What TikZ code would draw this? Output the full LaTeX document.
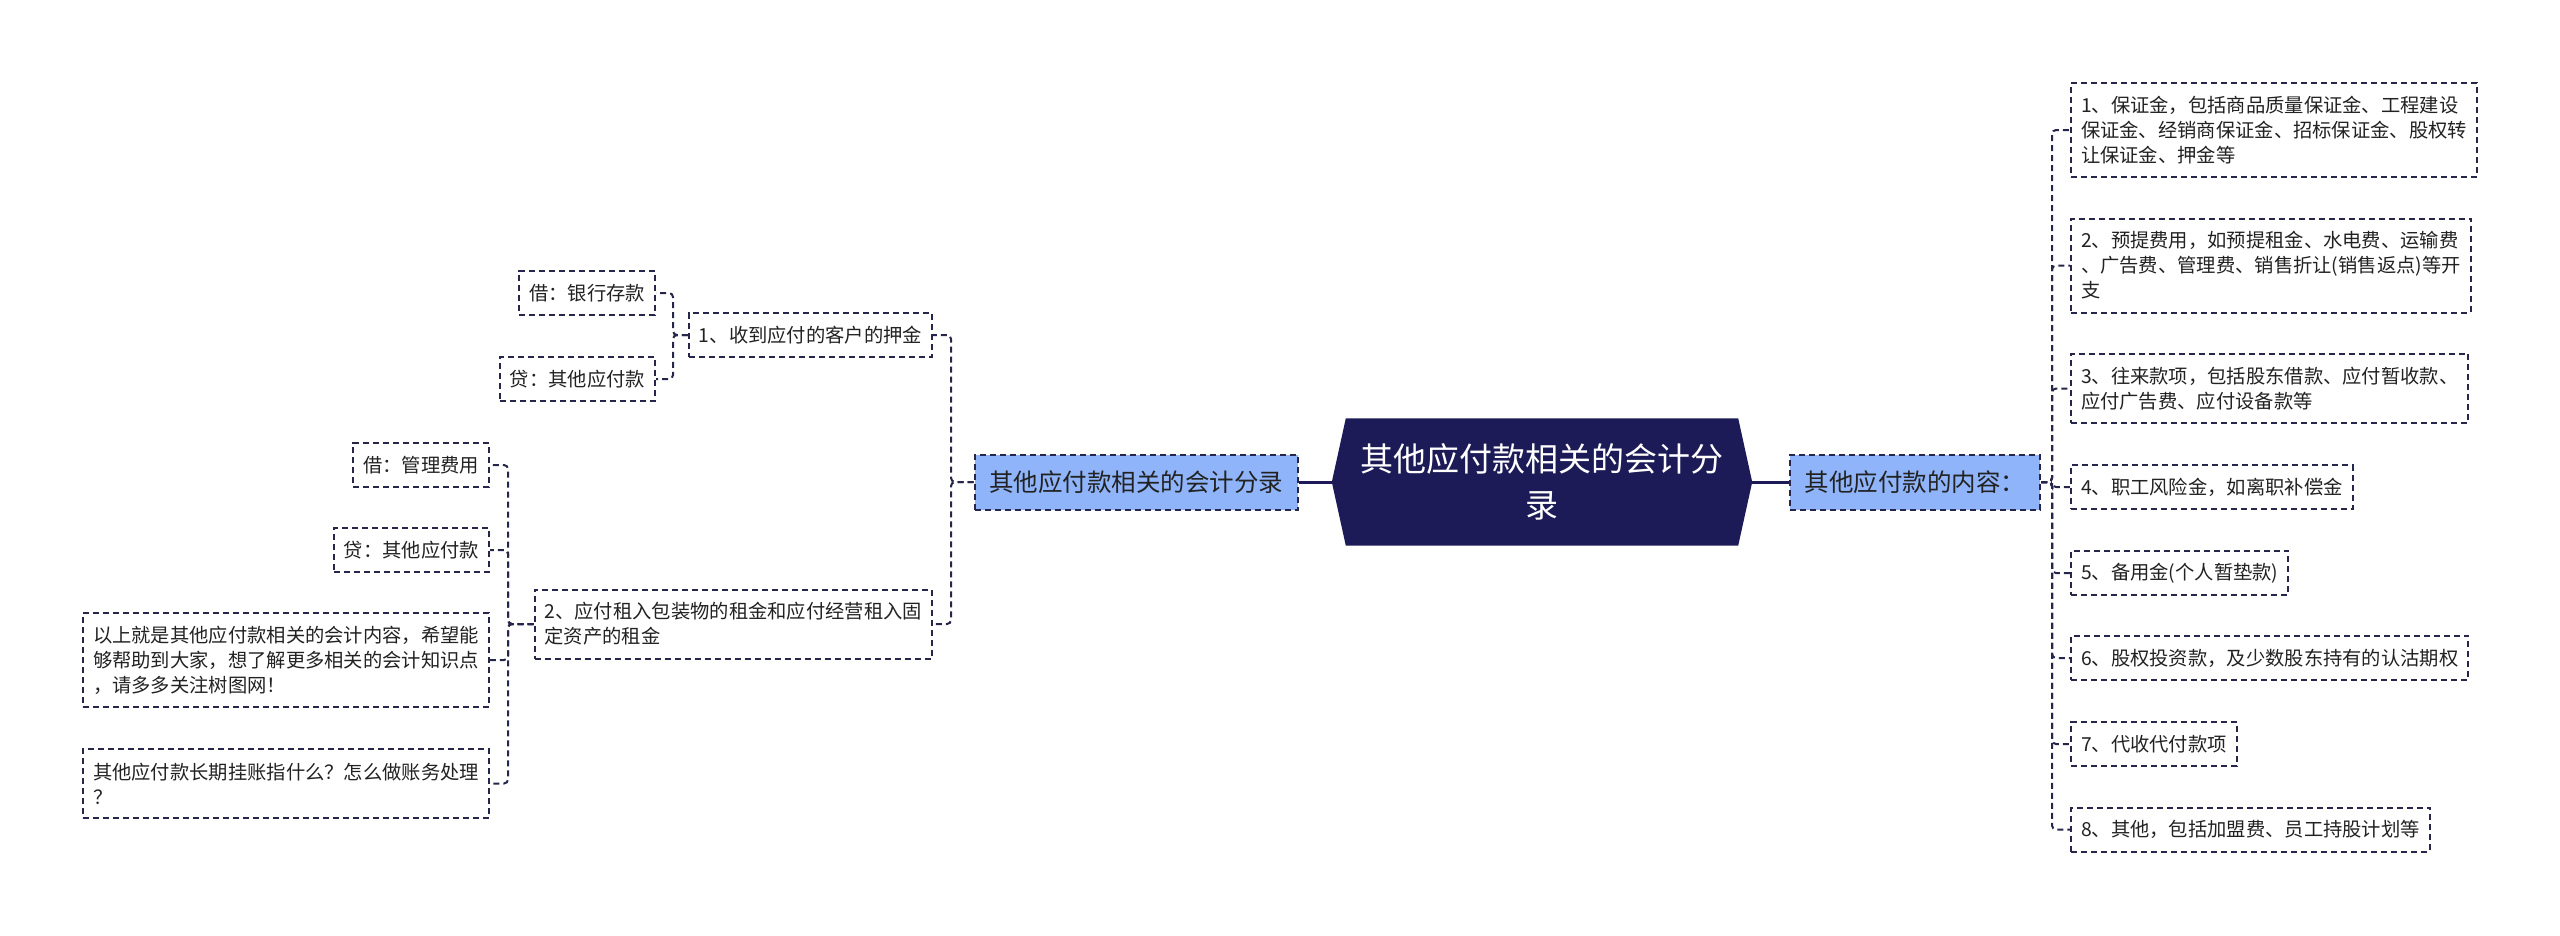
\documentclass[tikz,border=0pt]{standalone}
\usepackage{fontspec}
\setmainfont{Noto Sans CJK SC}
\usetikzlibrary{backgrounds}
\definecolor{navy}{HTML}{1C1B57}
\definecolor{edge}{HTML}{26264A}
\definecolor{bluefill}{HTML}{8FB4FA}
\definecolor{txt}{HTML}{222222}
\begin{document}
\begin{tikzpicture}[x=1pt,y=-1pt,
 box/.style={draw=edge, line width=2pt, dash pattern=on 6pt off 4pt, fill=white, text=txt, align=left, inner xsep=10pt, inner ysep=4pt, font=\fontsize{19.3}{25}\selectfont},
 one/.style={minimum height=44pt},
 two/.style={minimum height=69pt},
 three/.style={minimum height=94pt},
 topic/.style={draw=edge, line width=2pt, dash pattern=on 6pt off 4pt, fill=bluefill, text=txt, minimum height=55pt, inner xsep=14pt, font=\fontsize{24.5}{30}\selectfont},
 conn/.style={draw=edge, line width=2pt, dash pattern=on 6pt off 4pt, rounded corners=4pt},
 mainline/.style={draw=navy, line width=3pt},
]
\useasboundingbox (0,0) rectangle (2560,935);

% central topic
\node[text=white, align=center, font=\fontsize{33}{46}\selectfont, minimum width=420pt, minimum height=127pt, inner sep=0pt] (c) at (1542,482) {其他应付款相关的会计分\\录};

% main branches
\node[topic, minimum width=323pt] (lb) at (1136,482) {其他应付款相关的会计分录};
\node[topic, minimum width=250pt] (rb) at (1915,482) {其他应付款的内容：};

% right children
\node[box,three,anchor=west] (r1) at (2070,130) {1、保证金，包括商品质量保证金、工程建设\\保证金、经销商保证金、招标保证金、股权转\\让保证金、押金等};
\node[box,three,anchor=west] (r2) at (2070,265.5) {2、预提费用，如预提租金、水电费、运输费\\、广告费、管理费、销售折让(销售返点)等开\\支};
\node[box,two,anchor=west] (r3) at (2070,388.5) {3、往来款项，包括股东借款、应付暂收款、\\应付广告费、应付设备款等};
\node[box,one,anchor=west] (r4) at (2070,487) {4、职工风险金，如离职补偿金};
\node[box,one,anchor=west] (r5) at (2070,573) {5、备用金(个人暂垫款)};
\node[box,one,anchor=west] (r6) at (2070,658) {6、股权投资款，及少数股东持有的认沽期权};
\node[box,one,anchor=west] (r7) at (2070,744) {7、代收代付款项};
\node[box,one,anchor=west] (r8) at (2070,829.5) {8、其他，包括加盟费、员工持股计划等};

% left children
\node[box,one,anchor=east] (l1) at (933,335) {1、收到应付的客户的押金};
\node[box,two,anchor=east] (l2) at (933,624) {2、应付租入包装物的租金和应付经营租入固\\定资产的租金};
\node[box,one,anchor=east] (a1) at (656,293) {借：银行存款};
\node[box,one,anchor=east] (a2) at (656,379) {贷：其他应付款};
\node[box,one,anchor=east] (b1) at (490,465) {借：管理费用};
\node[box,one,anchor=east] (b2) at (490,550) {贷：其他应付款};
\node[box,three,anchor=east] (b3) at (490,660) {以上就是其他应付款相关的会计内容，希望能\\够帮助到大家，想了解更多相关的会计知识点\\，请多多关注树图网！};
\node[box,two,anchor=east] (b4) at (490,783.5) {其他应付款长期挂账指什么？怎么做账务处理\\？};

\coordinate (tr) at (2052,0);
\coordinate (tl) at (951,0);
\coordinate (ta) at (673,0);
\coordinate (tb) at (508,0);

\begin{scope}[on background layer]
\fill[white] (0,0) rectangle (2560,935);
\fill[navy] (c.west) -- ([xshift=14pt]c.north west) -- ([xshift=-14pt]c.north east) -- (c.east) -- ([xshift=-14pt]c.south east) -- ([xshift=14pt]c.south west) -- cycle;
\draw[mainline] (lb.east) -- (c.west);
\draw[mainline] (c.east) -- (rb.west);
\foreach \n in {r1,r2,r3,r4,r5,r6,r7,r8} \draw[conn] (rb.east) -- (rb.east -| tr) |- (\n.west);
\foreach \n in {l1,l2} \draw[conn] (lb.west) -- (lb.west -| tl) |- (\n.east);
\foreach \n in {a1,a2} \draw[conn] (l1.west) -- (l1.west -| ta) |- (\n.east);
\foreach \n in {b1,b2,b3,b4} \draw[conn] (l2.west) -- (l2.west -| tb) |- (\n.east);
\end{scope}
\end{tikzpicture}
\end{document}
